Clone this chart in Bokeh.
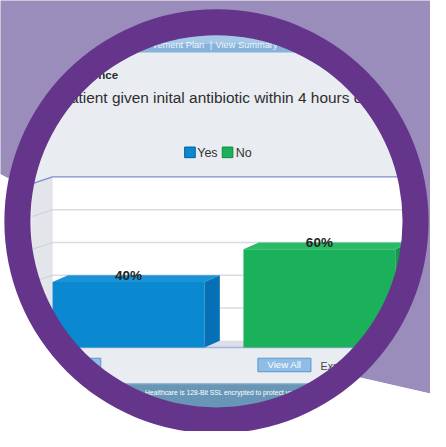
import numpy as np
from bokeh.plotting import figure
from bokeh.models import Range1d
from bokeh.core.properties import value
from bokeh.embed import file_html
from bokeh.resources import INLINE

# ---------------- data ----------------
categories = ["Yes", "No"]
percentages = [40, 60]
bar_labels = ["40%", "60%"]
front_colors = ["#0a88d0", "#1bb05a"]
top_colors = ["#1a93d8", "#2bba67"]
side_colors = ["#0670b6", "#13984b"]
grid_values = [20, 40, 60, 80]
axis_max = 100
title_text = "atient given inital antibiotic within 4 hours o"
section_text = "nce"
nav_texts = ["vement Plan", "|", "View Summary"]
footer_text = "Healthcare is 128-Bit SSL encrypted to protect yo"
button_text = "View All"
extra_text = "Exp"

# ---------------- layout ----------------
W, H = 430, 431
REF_W, REF_H = 446, 447
S = W / REF_W
PX_PER_PCT = 1.7
BASE_PY = 360.0
FONT = value("Liberation Sans")


def fs(px):
    return f"{px * S:.2f}px"


p = figure(width=W, height=H, x_range=Range1d(0, REF_W),
           y_range=Range1d((BASE_PY - REF_H) / PX_PER_PCT, BASE_PY / PX_PER_PCT),
           output_backend="svg", toolbar_location=None,
           x_axis_location=None, y_axis_location=None, min_border=0,
           outline_line_color=None, background_fill_color="white",
           border_fill_color="white")
p.grid.visible = False
p.extra_y_ranges = {"px": Range1d(REF_H, 0)}
PX = "px"

CX, CY = 224.0, 229.0
R_IN, R_OUT = 193.0, 220.0

# inner page background
p.circle(x=[CX], y=[CY], radius=R_OUT - 8, fill_color="#e9ecf1", line_color=None, y_range_name=PX)

# nav bar
p.quad(left=[100], right=[350], top=[34], bottom=[45], fill_color="#a6c8e8", line_color=None, y_range_name=PX)
p.quad(left=[100], right=[350], top=[45], bottom=[54], fill_color="#86b2dc", line_color=None, y_range_name=PX)
p.text(x=[158, 217, 223], y=[46, 46, 46], text=nav_texts, text_font=FONT, text_font_size=fs(9.6),
       text_color="#f2f6fb", text_baseline="middle", text_align="left", y_range_name=PX)

# header texts
p.text(x=[122], y=[77], text=[section_text], text_font=FONT, text_font_size=fs(12), text_font_style="bold",
       text_color="#2a2a2a", text_baseline="middle", text_align="right", y_range_name=PX)
p.text(x=[72], y=[101], text=[title_text], text_font=FONT, text_font_size=fs(16),
       text_color="#2e2e2e", text_baseline="middle", text_align="left", y_range_name=PX)

# legend
leg_x = [191, 230]
p.quad(left=leg_x, right=[x + 11 for x in leg_x], top=[152, 152], bottom=[163, 163],
       fill_color=front_colors, line_color=["#05609a", "#0f8a40"], y_range_name=PX)
p.text(x=[204, 244], y=[158, 158], text=categories, text_font=FONT, text_font_size=fs(13),
       text_color="#333333", text_baseline="middle", text_align="left", y_range_name=PX)

# ---------------- 3D chart ----------------
DX = 16.0
DV = 7.0 / PX_PER_PCT
WALL_L, WALL_R = 54.0, 445.0
SIDE_L = 33.0

# back wall
p.quad(left=[WALL_L], right=[WALL_R], bottom=[DV], top=[axis_max + DV], fill_color="white", line_color=None)
# left wall
p.patch(x=[SIDE_L, WALL_L, WALL_L, SIDE_L], y=[0, DV, axis_max + DV, axis_max],
        fill_color="#e3e5ea", line_color=None)
# floor
p.patch(x=[SIDE_L, WALL_R, WALL_R + DX, WALL_L], y=[0, 0, DV, DV], fill_color="#dcdfe6", line_color=None)
# grid lines
for g in grid_values:
    p.line(x=[WALL_L, WALL_R], y=[g + DV, g + DV], line_color="#d9dce5", line_width=1.5)
    p.line(x=[SIDE_L, WALL_L], y=[g, g + DV], line_color="#cdd1dc", line_width=1.2)
# top frame
p.line(x=[SIDE_L, WALL_L, WALL_R], y=[axis_max, axis_max + DV, axis_max + DV], line_color="#7e8ad3", line_width=1.3)
# front baseline
p.line(x=[20, WALL_R], y=[0, 0], line_color="#a8b2df", line_width=1.5)

# bars
bar_left = [54.0, 252.0]
bar_width = 157.5
bar_right = [b + bar_width for b in bar_left]
p.quad(left=bar_left, right=bar_right, bottom=[0, 0], top=percentages, fill_color=front_colors, line_color=None)
top_xs = [[l, r, r + DX, l + DX] for l, r in zip(bar_left, bar_right)]
top_ys = [[v, v, v + DV, v + DV] for v in percentages]
p.patches(xs=top_xs, ys=top_ys, fill_color=top_colors, line_color=None)
side_xs = [[r, r + DX, r + DX, r] for r in bar_right]
side_ys = [[0, DV, v + DV, v] for v in percentages]
p.patches(xs=side_xs, ys=side_ys, fill_color=side_colors, line_color=None)

# value labels
p.text(x=[(l + r) / 2 for l, r in zip(bar_left, bar_right)], y=[v + DV for v in percentages], text=bar_labels,
       text_font=FONT, text_font_size=fs(14), text_font_style="bold", text_color="#222222",
       text_baseline="middle", text_align="center")

# ---------------- bottom controls ----------------
p.quad(left=[78, 267], right=[104, 322], top=[371, 371], bottom=[385, 385],
       fill_color="#8fbde6", line_color="#5d95cc", y_range_name=PX)
p.text(x=[294.5], y=[378], text=[button_text], text_font=FONT, text_font_size=fs(10),
       text_color="#ffffff", text_baseline="middle", text_align="center", y_range_name=PX)
p.text(x=[332], y=[379], text=[extra_text], text_font=FONT, text_font_size=fs(11),
       text_color="#444444", text_baseline="middle", text_align="left", y_range_name=PX)

# footer
p.quad(left=[60], right=[390], top=[397], bottom=[440], fill_color="#6896b6", line_color=None, y_range_name=PX)
p.line(x=[60, 390], y=[397.5, 397.5], line_color="#9dbcd2", line_width=1, y_range_name=PX)
p.text(x=[150], y=[407], text=[footer_text], text_font=FONT, text_font_size=fs(7),
       text_color="#ffffff", text_baseline="middle", text_align="left", y_range_name=PX)

# ---------------- masks outside ring ----------------
RM = R_OUT - 1
aL = np.arctan2(185 - CY, 9 - CX)
aR = np.arctan2(392 - CY, 373 - CX)
PLx, PLy = CX + RM * np.cos(aL), CY + RM * np.sin(aL)
PRx, PRy = CX + RM * np.cos(aR), CY + RM * np.sin(aR)

arc_top = np.linspace(aR, aL, 240)
lav_x = [PLx, -10, -10, 460, 460, PRx] + list(CX + RM * np.cos(arc_top))
lav_y = [PLy, 175, -10, -10, 411, PRy] + list(CY + RM * np.sin(arc_top))
p.patch(x=lav_x, y=lav_y, fill_color="#9a8dbb", line_color=None, y_range_name=PX)

arc_bot = np.linspace(aR, aL + 2 * np.pi, 240)
wh_x = [PLx, -10, -10, 460, 460, PRx] + list(CX + RM * np.cos(arc_bot))
wh_y = [PLy, 175, 470, 470, 411, PRy] + list(CY + RM * np.sin(arc_bot))
p.patch(x=wh_x, y=wh_y, fill_color="#ffffff", line_color=None, y_range_name=PX)

# ring
p.annulus(x=[CX], y=[CY], inner_radius=R_IN, outer_radius=R_OUT, fill_color="#64358a",
          line_color=None, y_range_name=PX)

open("out.html", "w").write(file_html(p, INLINE))
